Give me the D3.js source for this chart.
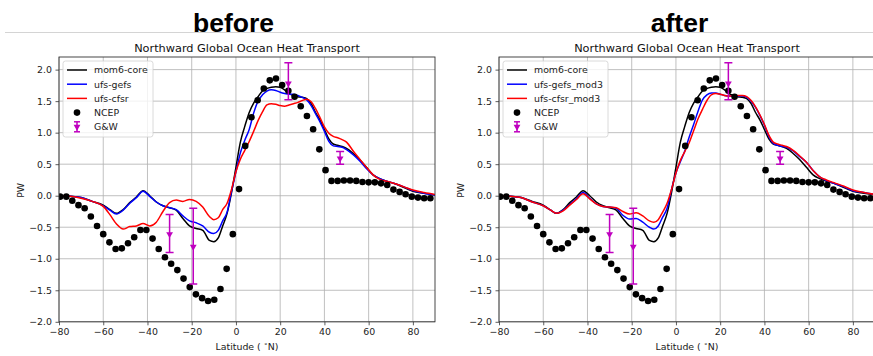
<!DOCTYPE html>
<html>
<head>
<meta charset="utf-8">
<script src="https://cdn.jsdelivr.net/npm/d3@7"></script>
<style>
  html, body { margin: 0; padding: 0; background: #fff; }
  svg { display: block; }
</style>
</head>
<body>
<script>
// ---------------- data ----------------
const panelTitles = ["before", "after"];
const chartTitle = "Northward Global Ocean Heat Transport";
const xTicks = [-80, -60, -40, -20, 0, 20, 40, 60, 80];
const yTicks = [-2.0, -1.5, -1.0, -0.5, 0.0, 0.5, 1.0, 1.5, 2.0];

const modelLat = [-80,-75,-70,-65,-60,-57,-54,-51,-48,-45,-42,-39,-36,-33,-30,-27,-24,-21,-18,-15,-12,-10,-8,-6,-4,-2,0,2,4,6,8,10,12,14,16,18,20,22,24,26,28,30,32,34,36,38,40,42,44,46,48,50,53,56,59,62,65,68,72,76,80,85,90];

const mom6Core = [0.0,-0.01,-0.03,-0.09,-0.15,-0.22,-0.28,-0.22,-0.11,-0.02,0.08,0.0,-0.10,-0.16,-0.19,-0.23,-0.36,-0.48,-0.52,-0.55,-0.71,-0.73,-0.67,-0.48,-0.28,0.05,0.45,0.85,1.10,1.32,1.47,1.57,1.66,1.70,1.72,1.73,1.72,1.68,1.62,1.59,1.57,1.56,1.54,1.46,1.32,1.20,1.05,0.90,0.82,0.80,0.78,0.75,0.67,0.57,0.45,0.33,0.27,0.23,0.19,0.13,0.07,0.04,0.01];

const ufsGefs = [0.0,-0.01,-0.03,-0.09,-0.16,-0.23,-0.29,-0.23,-0.12,-0.03,0.07,-0.01,-0.10,-0.16,-0.19,-0.22,-0.32,-0.40,-0.43,-0.48,-0.58,-0.60,-0.55,-0.40,-0.26,0.07,0.38,0.68,0.88,1.05,1.31,1.50,1.60,1.66,1.68,1.67,1.64,1.62,1.61,1.61,1.59,1.56,1.52,1.43,1.30,1.17,1.02,0.86,0.79,0.78,0.77,0.73,0.65,0.55,0.43,0.33,0.27,0.23,0.19,0.14,0.08,0.04,0.01];

const ufsCfsr = [0.0,-0.01,-0.04,-0.09,-0.17,-0.30,-0.45,-0.53,-0.49,-0.48,-0.44,-0.48,-0.42,-0.25,-0.11,-0.07,-0.09,-0.06,-0.09,-0.18,-0.33,-0.38,-0.35,-0.22,-0.12,0.10,0.38,0.58,0.72,0.86,1.02,1.19,1.33,1.44,1.46,1.45,1.43,1.42,1.44,1.46,1.48,1.51,1.53,1.49,1.38,1.24,1.09,0.99,0.94,0.92,0.89,0.85,0.71,0.58,0.45,0.33,0.26,0.23,0.19,0.14,0.09,0.05,0.02];

const ufsGefsMod3 = [0.0,-0.01,-0.03,-0.10,-0.16,-0.22,-0.28,-0.23,-0.14,-0.05,0.05,-0.04,-0.13,-0.17,-0.18,-0.20,-0.31,-0.37,-0.36,-0.42,-0.50,-0.53,-0.48,-0.34,-0.20,0.10,0.36,0.54,0.71,0.93,1.13,1.34,1.52,1.60,1.63,1.63,1.61,1.59,1.58,1.58,1.58,1.58,1.56,1.50,1.40,1.27,1.12,0.94,0.83,0.80,0.78,0.77,0.71,0.62,0.53,0.40,0.30,0.24,0.19,0.14,0.08,0.05,0.02];

const ufsCfsrMod3 = [0.0,-0.01,-0.03,-0.10,-0.16,-0.22,-0.28,-0.24,-0.15,-0.06,0.03,-0.05,-0.13,-0.17,-0.18,-0.19,-0.25,-0.29,-0.27,-0.32,-0.40,-0.42,-0.38,-0.26,-0.12,0.10,0.36,0.56,0.70,0.84,1.03,1.22,1.37,1.51,1.60,1.62,1.61,1.59,1.58,1.58,1.59,1.59,1.57,1.51,1.41,1.28,1.13,0.96,0.85,0.82,0.80,0.78,0.72,0.63,0.53,0.40,0.30,0.25,0.20,0.15,0.09,0.05,0.02];

const ncepLat = [-79.5,-76.7,-74.0,-71.2,-68.4,-65.6,-62.8,-60.0,-57.2,-54.4,-51.6,-48.8,-46.0,-43.2,-40.5,-37.7,-34.9,-32.1,-29.3,-26.5,-23.7,-20.9,-18.1,-15.3,-12.6,-9.8,-7.0,-4.2,-1.4,1.4,4.2,7.0,9.8,12.6,15.3,18.1,20.9,23.7,26.5,29.3,32.1,34.9,37.7,40.5,43.2,46.0,48.8,51.6,54.4,57.2,60.0,62.8,65.6,68.4,71.2,74.0,76.7,79.5,82.3,85.1,87.9];
const ncepPHT = [-0.015,-0.015,-0.08,-0.15,-0.20,-0.33,-0.48,-0.61,-0.74,-0.845,-0.835,-0.755,-0.66,-0.545,-0.545,-0.68,-0.845,-0.975,-1.08,-1.18,-1.315,-1.45,-1.565,-1.625,-1.67,-1.65,-1.48,-1.16,-0.61,0.105,0.79,1.245,1.515,1.70,1.83,1.86,1.755,1.665,1.57,1.42,1.265,1.055,0.735,0.405,0.235,0.235,0.24,0.24,0.235,0.217,0.212,0.212,0.196,0.17,0.097,0.06,0.022,-0.015,-0.03,-0.04,-0.04];

const gwLat = [-30, -19.3, 23.7, 47.1];
const gwVal = [-0.61, -0.81, 1.78, 0.59];
const gwLow = [-0.90, -1.40, 1.52, 0.50];
const gwHigh = [-0.30, -0.20, 2.11, 0.70];

const leftSeriesNames = ["mom6-core", "ufs-gefs", "ufs-cfsr"];
const rightSeriesNames = ["mom6-core", "ufs-gefs_mod3", "ufs-cfsr_mod3"];
const seriesColors = ["#000000", "#0000ff", "#ff0000"];
const obsNames = ["NCEP", "G&W"];

// ---------------- drawing ----------------
const W = 873, H = 356;
const svg = d3.select("body").append("svg").attr("width", W).attr("height", H)
  .attr("font-family", "'DejaVu Sans', sans-serif");

svg.append("line").attr("x1", 5).attr("x2", W).attr("y1", 32.5).attr("y2", 32.5)
  .attr("stroke", "#d4d4d4").attr("stroke-width", 1);

const panels = [
  { title: panelTitles[0], titleX: 233.5, x0: 59, x1: 435, names: leftSeriesNames,
    series: [mom6Core, ufsGefs, ufsCfsr], legendW: 90 },
  { title: panelTitles[1], titleX: 679.5, x0: 499, x1: 875, names: rightSeriesNames,
    series: [mom6Core, ufsGefsMod3, ufsCfsrMod3], legendW: 105 }
];
const yTop = 57, yBot = 321.8;
const fs = 9.4;
const gwColor = "#bf00bf";

panels.forEach((p, pi) => {
  svg.append("text").attr("x", p.titleX).attr("y", 32)
    .attr("text-anchor", "middle").attr("font-family", "'Liberation Sans', Arial, sans-serif")
    .attr("font-weight", "bold").attr("font-size", 26.5).attr("fill", "#000").text(p.title);

  const x = d3.scaleLinear().domain([-80, 90]).range([p.x0, p.x1]);
  const y = d3.scaleLinear().domain([-2, 2.2]).range([yBot, yTop]);
  const g = svg.append("g");

  const clipId = "clip" + pi;
  svg.append("clipPath").attr("id", clipId).append("rect")
    .attr("x", p.x0).attr("y", yTop).attr("width", p.x1 - p.x0).attr("height", yBot - yTop);

  // grid
  g.append("g").selectAll("line").data(xTicks).join("line")
    .attr("x1", d => x(d)).attr("x2", d => x(d)).attr("y1", yTop).attr("y2", yBot)
    .attr("stroke", "#b0b0b0").attr("stroke-width", 0.8);
  g.append("g").selectAll("line").data(yTicks).join("line")
    .attr("x1", p.x0).attr("x2", p.x1).attr("y1", d => y(d)).attr("y2", d => y(d))
    .attr("stroke", "#b0b0b0").attr("stroke-width", 0.8);

  const plot = g.append("g").attr("clip-path", `url(#${clipId})`);
  const line = d3.line().x((d, i) => x(modelLat[i])).y(d => y(d)).curve(d3.curveMonotoneX);
  p.series.forEach((s, si) => {
    plot.append("path").datum(s).attr("d", line).attr("fill", "none")
      .attr("stroke", seriesColors[si]).attr("stroke-width", 1.5);
  });

  plot.append("g").selectAll("circle").data(ncepPHT).join("circle")
    .attr("cx", (d, i) => x(ncepLat[i])).attr("cy", d => y(d)).attr("r", 3.3).attr("fill", "#000");

  const gw = plot.append("g").attr("stroke", gwColor).attr("fill", gwColor);
  gwLat.forEach((lat, i) => {
    const cx = x(lat);
    gw.append("line").attr("x1", cx).attr("x2", cx).attr("y1", y(gwLow[i])).attr("y2", y(gwHigh[i])).attr("stroke-width", 1.5);
    gw.append("line").attr("x1", cx - 4).attr("x2", cx + 4).attr("y1", y(gwLow[i])).attr("y2", y(gwLow[i])).attr("stroke-width", 1.5);
    gw.append("line").attr("x1", cx - 4).attr("x2", cx + 4).attr("y1", y(gwHigh[i])).attr("y2", y(gwHigh[i])).attr("stroke-width", 1.5);
    gw.append("path").attr("d", d3.symbol(d3.symbolTriangle, 20)())
      .attr("transform", `translate(${cx},${y(gwVal[i])}) rotate(180)`).attr("stroke", "none");
  });

  // axes
  const xAxis = d3.axisBottom(x).tickValues(xTicks).tickSize(3.5).tickPadding(3.5).tickFormat(d3.format("d"));
  const yAxis = d3.axisLeft(y).tickValues(yTicks).tickSize(3.5).tickPadding(3.5).tickFormat(d3.format(".1f"));
  const ax = g.append("g").attr("transform", `translate(0,${yBot})`).call(xAxis);
  const ay = g.append("g").attr("transform", `translate(${p.x0},0)`).call(yAxis);
  [ax, ay].forEach(a => {
    a.select(".domain").remove();
    a.selectAll("text").attr("font-size", fs).attr("font-family", "'DejaVu Sans', sans-serif").attr("fill", "#222");
    a.selectAll("line").attr("stroke", "#333").attr("stroke-width", 0.8);
  });

  g.append("rect").attr("x", p.x0).attr("y", yTop).attr("width", p.x1 - p.x0).attr("height", yBot - yTop)
    .attr("fill", "none").attr("stroke", "#333").attr("stroke-width", 0.9);

  // title
  g.append("text").attr("x", (p.x0 + p.x1) / 2).attr("y", 52).attr("text-anchor", "middle")
    .attr("font-size", 11.3).attr("fill", "#111").text(chartTitle);

  // axis labels
  const xl = g.append("text").attr("x", (p.x0 + p.x1) / 2).attr("y", 350).attr("text-anchor", "middle")
    .attr("font-size", fs).attr("fill", "#222");
  xl.append("tspan").text("Latitude ( ");
  xl.append("tspan").attr("font-size", 6.5).attr("dy", -4).text("∘");
  xl.append("tspan").attr("dy", 4).text("N)");

  g.append("text").attr("transform", `translate(${p.x0 - 35},${(yTop + yBot) / 2 + 1}) rotate(-90)`)
    .attr("text-anchor", "middle").attr("font-size", fs).attr("fill", "#222").text("PW");

  // legend
  const lx = p.x0 + 4, ly = 61;
  const leg = g.append("g");
  leg.append("rect").attr("x", lx).attr("y", ly).attr("width", p.legendW).attr("height", 76)
    .attr("rx", 2.5).attr("fill", "#fff").attr("fill-opacity", 0.8).attr("stroke", "#d0d0d0").attr("stroke-width", 0.8);
  const rowY = i => ly + 9 + i * 14.2;
  p.names.forEach((n, i) => {
    leg.append("line").attr("x1", lx + 4).attr("x2", lx + 24).attr("y1", rowY(i)).attr("y2", rowY(i))
      .attr("stroke", seriesColors[i]).attr("stroke-width", 1.5);
    leg.append("text").attr("x", lx + 31).attr("y", rowY(i) + 3.4).attr("font-size", fs).attr("fill", "#222").text(n);
  });
  leg.append("circle").attr("cx", lx + 14).attr("cy", rowY(3)).attr("r", 3.3).attr("fill", "#000");
  leg.append("text").attr("x", lx + 31).attr("y", rowY(3) + 3.4).attr("font-size", fs).attr("fill", "#222").text(obsNames[0]);
  const gy = rowY(4), gx = lx + 14;
  const lg = leg.append("g").attr("stroke", gwColor).attr("fill", gwColor);
  lg.append("line").attr("x1", gx).attr("x2", gx).attr("y1", gy - 5).attr("y2", gy + 5).attr("stroke-width", 1.5);
  lg.append("line").attr("x1", gx - 3).attr("x2", gx + 3).attr("y1", gy - 5).attr("y2", gy - 5).attr("stroke-width", 1.5);
  lg.append("line").attr("x1", gx - 3).attr("x2", gx + 3).attr("y1", gy + 5).attr("y2", gy + 5).attr("stroke-width", 1.5);
  lg.append("path").attr("d", d3.symbol(d3.symbolTriangle, 20)())
    .attr("transform", `translate(${gx},${gy}) rotate(180)`).attr("stroke", "none");
  leg.append("text").attr("x", lx + 31).attr("y", gy + 3.4).attr("font-size", fs).attr("fill", "#222").text(obsNames[1]);
});
</script>
</body>
</html>
